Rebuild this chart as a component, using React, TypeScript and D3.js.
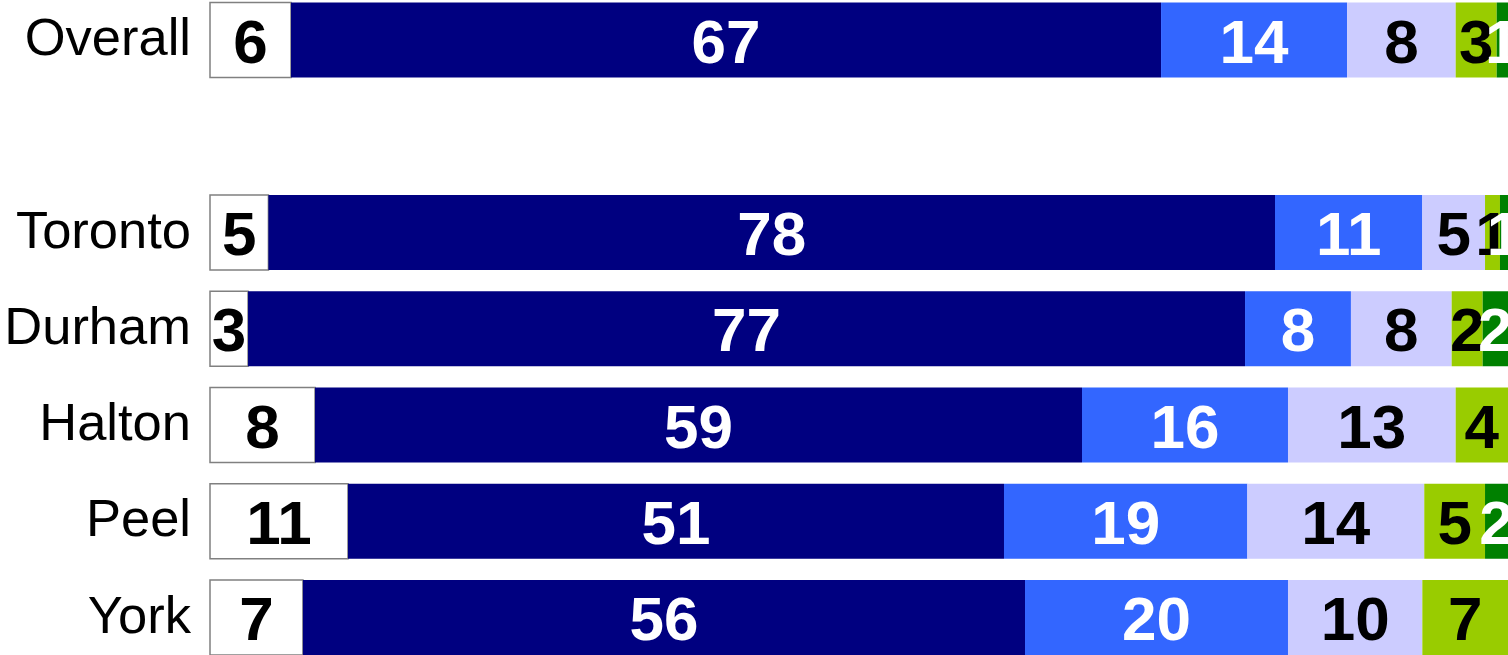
import React from "react";
import * as d3 from "d3";

const categories = ["Overall", "Toronto", "Durham", "Halton", "Peel", "York"];
const rowSlots = ["Overall", "", "Toronto", "Durham", "Halton", "Peel", "York"];
const seriesKeys = ["s1", "s2", "s3", "s4", "s5", "s6"];
const s1 = [6.24, 4.5, 2.93, 8.09, 10.63, 7.16];
const s2 = [67.03, 77.55, 76.81, 59.09, 50.54, 55.63];
const s3 = [14.33, 11.35, 8.16, 15.87, 18.75, 20.26];
const s4 = [8.37, 4.83, 7.76, 12.92, 13.63, 10.35];
const s5 = [3.16, 1.15, 2.39, 4.03, 4.68, 6.6];
const s6 = [0.87, 0.62, 1.95, 0, 1.77, 0];
const seriesValues = [s1, s2, s3, s4, s5, s6];

const fills = ["#ffffff", "#000080", "#3366ff", "#ccccff", "#99cc00", "#008000"];
const labelColors = ["#000000", "#ffffff", "#ffffff", "#000000", "#000000", "#ffffff"];

const W = 1508;
const H = 655;
const FONT = "'Liberation Sans', Arial, Helvetica, sans-serif";

export default function App() {
  const rows = categories.map((c, i) => {
    const r: any = { cat: c };
    seriesKeys.forEach((k, j) => (r[k] = seriesValues[j][i]));
    return r;
  });
  const stacked = d3.stack().keys(seriesKeys)(rows);
  const x = d3.scaleLinear().domain([0, 100]).range([210, 1508]);
  const y = d3
    .scaleBand()
    .domain(rowSlots)
    .range([2.5, 655])
    .paddingInner(21.25 / 96.25)
    .paddingOuter(0);
  const bw = y.bandwidth();

  return (
    <div style={{ position: "fixed", left: 0, top: 0 }}>
      <svg width={W} height={H} style={{ display: "block", background: "#fff" }}>
        {categories.map((c) => (
          <text
            key={"cat-" + c}
            x={191}
            y={(y(c) as number) + bw / 2 + 15}
            textAnchor="end"
            fontFamily={FONT}
            fontSize={52.5}
            fill="#000"
          >
            {c}
          </text>
        ))}
        {stacked.map((layer, j) => (
          <g key={"layer-" + j}>
            {layer.map((d: any, i) => {
              const x0 = x(d[0]);
              const x1 = x(d[1]);
              if (x1 - x0 <= 0) return null;
              return (
                <rect
                  key={"r" + i}
                  x={x0}
                  y={y(categories[i]) as number}
                  width={x1 - x0}
                  height={bw}
                  fill={fills[j]}
                  stroke={j === 0 ? "#808080" : "none"}
                  strokeWidth={j === 0 ? 1.5 : 0}
                />
              );
            })}
          </g>
        ))}
        {stacked.map((layer, j) => (
          <g key={"lab-" + j}>
            {layer.map((d: any, i) => {
              const v = seriesValues[j][i];
              if (v < 0.5) return null;
              const cx = (x(d[0]) + x(d[1])) / 2;
              return (
                <text
                  key={"t" + i}
                  x={cx}
                  y={(y(categories[i]) as number) + bw / 2 + 22.5}
                  textAnchor="middle"
                  fontFamily={FONT}
                  fontWeight="bold"
                  fontSize={62}
                  fill={labelColors[j]}
                >
                  {Math.round(v)}
                </text>
              );
            })}
          </g>
        ))}
      </svg>
    </div>
  );
}
